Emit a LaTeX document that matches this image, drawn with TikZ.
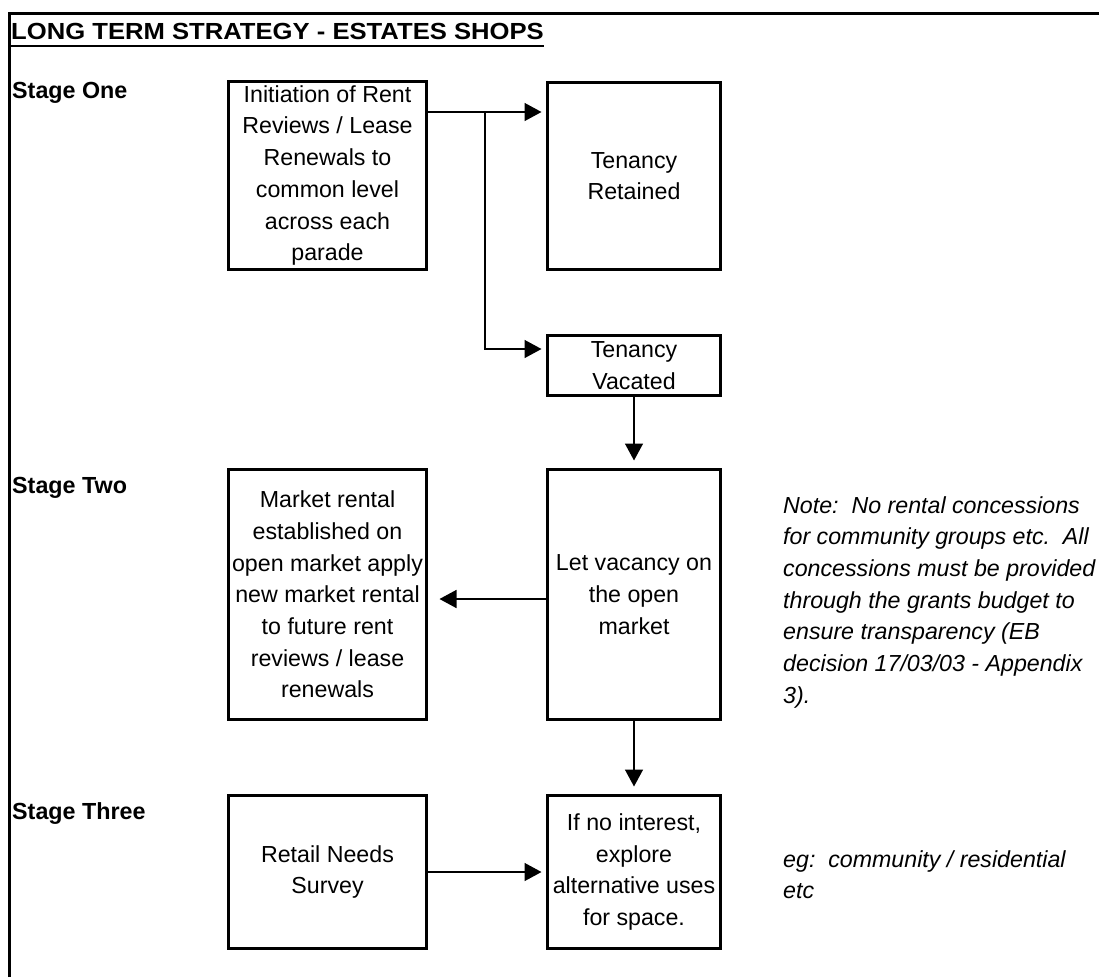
\documentclass[tikz,border=0pt]{standalone}
\usepackage{fontspec}
\setmainfont{Liberation Sans}
\newfontfamily\titlefam[FakeStretch=1.1]{Liberation Sans}
\usetikzlibrary{arrows.meta,calc}
\begin{document}
\begin{tikzpicture}[x=1pt,y=-1pt,
  frame/.style={line width=3pt},
  titlestyle/.style={font=\titlefam\bfseries\fontsize{23.3pt}{28pt}\selectfont, anchor=base west, inner sep=0pt},
  stage/.style={font=\bfseries\fontsize{23.3pt}{28pt}\selectfont, anchor=base west, inner sep=0pt},
  box/.style={draw, line width=3pt, inner sep=0pt, align=center, font=\fontsize{23.2pt}{31.7pt}\selectfont},
  conn/.style={line width=1.5pt, -{Triangle[length=17pt,width=18pt]}},
  note/.style={font=\itshape\fontsize{23.2pt}{31.7pt}\selectfont, align=left, anchor=north west, inner sep=0pt}
]
\useasboundingbox (0,0) rectangle (1099,977);
\fill[white] (0,0) rectangle (1099,977);
\draw[frame] (9,977) -- (9,13) -- (1099,13);

\node[titlestyle] (title) at (11,39) {LONG TERM STRATEGY - ESTATES SHOPS};
\draw[line width=2pt] ([yshift=-6.5pt]title.base west) -- ([yshift=-6.5pt]title.base east);

\node[stage] (s1) at (12,98) {Stage One};
\node[stage] (s2) at (12,493) {Stage Two};
\node[stage] (s3) at (12,819) {Stage Three};

\node[box, minimum width=198pt, minimum height=188pt] (A) at (327.5,175.5)
  {Initiation of Rent\\Reviews / Lease\\Renewals to\\common level\\across each\\parade};
\node[box, minimum width=173pt, minimum height=187pt] (TR) at (634,176) {Tenancy\\Retained};
\node[box, minimum width=173pt, minimum height=60pt] (TV) at (634,365.5) {Tenancy\\Vacated};
\node[box, minimum width=173pt, minimum height=250pt] (LV) at (634,594.5) {Let vacancy on\\the open\\market};
\node[box, minimum width=198pt, minimum height=250pt] (MR) at (327.5,594.5)
  {Market rental\\established on\\open market apply\\new market rental\\to future rent\\reviews / lease\\renewals};
\node[box, minimum width=198pt, minimum height=153pt] (RN) at (327.5,872) {Retail Needs\\Survey};
\node[box, minimum width=173pt, minimum height=153pt] (IF) at (634,872)
  {If no interest,\\explore\\alternative uses\\for space.};

\coordinate (j) at (485,112);
\coordinate (k) at (485,349);
\coordinate (m) at (548,599);
\draw[conn, shorten >=4.5pt] (j -| A.east) -- (j -| TR.west);
\draw[conn, shorten >=4.5pt] (j) -- (k) -- (k -| TV.west);
\draw[conn, shorten >=7.5pt] (TV.south) -- (LV.north);
\draw[conn, shorten >=11.5pt] (m -| LV.west) -- (m -| MR.east);
\draw[conn, shorten >=7.5pt] (LV.south) -- (IF.north);
\draw[conn, shorten >=4.5pt] (RN.east) -- (IF.west);

\node[note] (note) at (783,496)
  {Note:\ \ No rental concessions\\for community groups etc.\ \ All\\concessions must be provided\\through the grants budget to\\ensure transparency (EB\\decision 17/03/03 - Appendix\\3).};
\node[note] (eg) at (783,850) {eg:\ \ community / residential\\etc};
\end{tikzpicture}
\end{document}
